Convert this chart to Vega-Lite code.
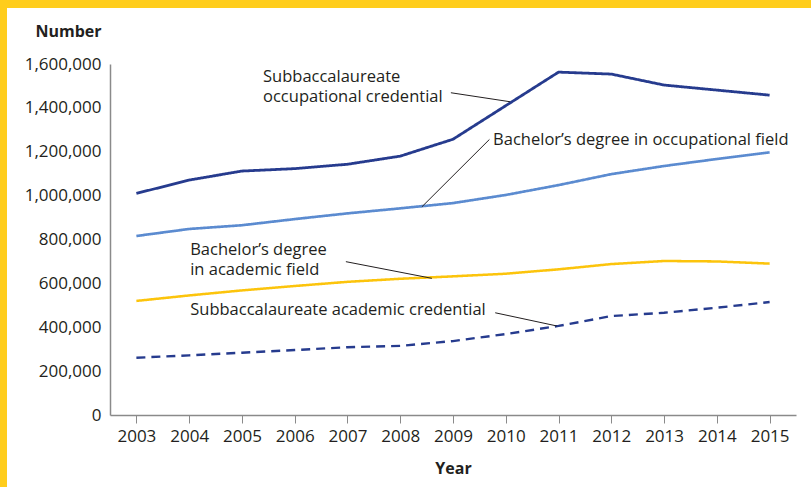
{
  "$schema": "https://vega.github.io/schema/vega-lite/v6.json",
  "width": 804,
  "height": 479,
  "autosize": {"type": "none"},
  "padding": {"left": 7, "top": 8, "right": 0, "bottom": 0},
  "background": "#ffcd1c",
  "config": {
    "font": "Open Sans",
    "view": {"fill": "white", "stroke": null}
  },
  "datasets": {
    "series": [
      {"year": 2003, "series": "Subbaccalaureate occupational credential", "value": 1010000},
      {"year": 2004, "series": "Subbaccalaureate occupational credential", "value": 1071000},
      {"year": 2005, "series": "Subbaccalaureate occupational credential", "value": 1112000},
      {"year": 2006, "series": "Subbaccalaureate occupational credential", "value": 1123000},
      {"year": 2007, "series": "Subbaccalaureate occupational credential", "value": 1143000},
      {"year": 2008, "series": "Subbaccalaureate occupational credential", "value": 1180000},
      {"year": 2009, "series": "Subbaccalaureate occupational credential", "value": 1257000},
      {"year": 2010, "series": "Subbaccalaureate occupational credential", "value": 1410000},
      {"year": 2011, "series": "Subbaccalaureate occupational credential", "value": 1563000},
      {"year": 2012, "series": "Subbaccalaureate occupational credential", "value": 1554000},
      {"year": 2013, "series": "Subbaccalaureate occupational credential", "value": 1504000},
      {"year": 2014, "series": "Subbaccalaureate occupational credential", "value": 1481000},
      {"year": 2015, "series": "Subbaccalaureate occupational credential", "value": 1458000},
      {"year": 2003, "series": "Bachelor's degree in occupational field", "value": 816000},
      {"year": 2004, "series": "Bachelor's degree in occupational field", "value": 848000},
      {"year": 2005, "series": "Bachelor's degree in occupational field", "value": 865000},
      {"year": 2006, "series": "Bachelor's degree in occupational field", "value": 893000},
      {"year": 2007, "series": "Bachelor's degree in occupational field", "value": 919000},
      {"year": 2008, "series": "Bachelor's degree in occupational field", "value": 942000},
      {"year": 2009, "series": "Bachelor's degree in occupational field", "value": 966000},
      {"year": 2010, "series": "Bachelor's degree in occupational field", "value": 1003000},
      {"year": 2011, "series": "Bachelor's degree in occupational field", "value": 1048000},
      {"year": 2012, "series": "Bachelor's degree in occupational field", "value": 1098000},
      {"year": 2013, "series": "Bachelor's degree in occupational field", "value": 1135000},
      {"year": 2014, "series": "Bachelor's degree in occupational field", "value": 1167000},
      {"year": 2015, "series": "Bachelor's degree in occupational field", "value": 1197000},
      {"year": 2003, "series": "Bachelor's degree in academic field", "value": 520000},
      {"year": 2004, "series": "Bachelor's degree in academic field", "value": 545000},
      {"year": 2005, "series": "Bachelor's degree in academic field", "value": 568000},
      {"year": 2006, "series": "Bachelor's degree in academic field", "value": 588000},
      {"year": 2007, "series": "Bachelor's degree in academic field", "value": 607000},
      {"year": 2008, "series": "Bachelor's degree in academic field", "value": 621000},
      {"year": 2009, "series": "Bachelor's degree in academic field", "value": 632000},
      {"year": 2010, "series": "Bachelor's degree in academic field", "value": 644000},
      {"year": 2011, "series": "Bachelor's degree in academic field", "value": 664000},
      {"year": 2012, "series": "Bachelor's degree in academic field", "value": 688000},
      {"year": 2013, "series": "Bachelor's degree in academic field", "value": 702000},
      {"year": 2014, "series": "Bachelor's degree in academic field", "value": 700000},
      {"year": 2015, "series": "Bachelor's degree in academic field", "value": 690000},
      {"year": 2003, "series": "Subbaccalaureate academic credential", "value": 261000},
      {"year": 2004, "series": "Subbaccalaureate academic credential", "value": 272000},
      {"year": 2005, "series": "Subbaccalaureate academic credential", "value": 284000},
      {"year": 2006, "series": "Subbaccalaureate academic credential", "value": 296000},
      {"year": 2007, "series": "Subbaccalaureate academic credential", "value": 309000},
      {"year": 2008, "series": "Subbaccalaureate academic credential", "value": 315000},
      {"year": 2009, "series": "Subbaccalaureate academic credential", "value": 337000},
      {"year": 2010, "series": "Subbaccalaureate academic credential", "value": 369000},
      {"year": 2011, "series": "Subbaccalaureate academic credential", "value": 406000},
      {"year": 2012, "series": "Subbaccalaureate academic credential", "value": 451000},
      {"year": 2013, "series": "Subbaccalaureate academic credential", "value": 466000},
      {"year": 2014, "series": "Subbaccalaureate academic credential", "value": 489000},
      {"year": 2015, "series": "Subbaccalaureate academic credential", "value": 515000}
    ],
    "labels": [
      {"text": "Subbaccalaureate\noccupational credential", "x": 2005.40, "y": 1542000},
      {"text": "Bachelor’s degree in occupational field", "x": 2009.76, "y": 1253000},
      {"text": "Bachelor’s degree\nin academic field", "x": 2004.02, "y": 752000},
      {"text": "Subbaccalaureate academic credential", "x": 2004.02, "y": 478000}
    ],
    "leaders": [
      {"x": 2008.96, "y": 1469000, "x2": 2010.08, "y2": 1428000},
      {"x": 2009.69, "y": 1256000, "x2": 2008.41, "y2": 949000},
      {"x": 2006.97, "y": 699000, "x2": 2008.60, "y2": 623000},
      {"x": 2009.80, "y": 466000, "x2": 2010.965, "y2": 406000}
    ]
  },
  "layer": [
    {
      "data": {"name": "series"},
      "mark": {"type": "line", "strokeCap": "butt", "strokeJoin": "miter"},
      "encoding": {
        "x": {
          "field": "year", "type": "quantitative",
          "scale": {"domain": [2002.5, 2015.5], "range": [103, 789], "nice": false, "zero": false},
          "axis": {
            "title": "Year", "values": [2003, 2004, 2005, 2006, 2007, 2008, 2009, 2010, 2011, 2012, 2013, 2014, 2015],
            "format": "d", "offset": -72, "grid": false,
            "domainColor": "#8a8a8a", "domainWidth": 1.5, "tickColor": "#8a8a8a", "tickWidth": 1, "tickSize": 8,
            "labelFont": "Open Sans", "labelFontSize": 17, "labelColor": "#231f20", "labelPadding": 5,
            "titleFont": "Open Sans", "titleFontSize": 16, "titleFontWeight": "bold", "titleColor": "#231f20",
            "titleY": 53, "titleBaseline": "middle", "labelFlush": false, "labelOverlap": false
          }
        },
        "y": {
          "field": "value", "type": "quantitative",
          "scale": {"domain": [0, 1600000], "range": [407, 56], "nice": false},
          "axis": {
            "title": "Number", "values": [0, 200000, 400000, 600000, 800000, 1000000, 1200000, 1400000, 1600000],
            "format": ",.0f", "offset": -103, "grid": false, "ticks": false,
            "domainColor": "#8a8a8a", "domainWidth": 1.5,
            "labelFont": "Open Sans", "labelFontSize": 17, "labelColor": "#231f20", "labelPadding": 9,
            "titleFont": "Open Sans", "titleFontSize": 16, "titleFontWeight": "bold", "titleColor": "#231f20",
            "titleAngle": 0, "titleAlign": "right", "titleBaseline": "middle", "titleX": -9, "titleY": 23,
            "labelFlush": false, "labelOverlap": false
          }
        },
        "color": {
          "field": "series", "type": "nominal", "legend": null,
          "scale": {
            "domain": ["Subbaccalaureate occupational credential", "Bachelor's degree in occupational field", "Bachelor's degree in academic field", "Subbaccalaureate academic credential"],
            "range": ["#263b8e", "#5b8bd0", "#fcc40c", "#263b8e"]
          }
        },
        "strokeDash": {
          "field": "series", "type": "nominal", "legend": null,
          "scale": {
            "domain": ["Subbaccalaureate occupational credential", "Bachelor's degree in occupational field", "Bachelor's degree in academic field", "Subbaccalaureate academic credential"],
            "range": [[1, 0], [1, 0], [1, 0], [9, 6]]
          }
        },
        "strokeWidth": {
          "field": "series", "type": "nominal", "legend": null,
          "scale": {
            "domain": ["Subbaccalaureate occupational credential", "Bachelor's degree in occupational field", "Bachelor's degree in academic field", "Subbaccalaureate academic credential"],
            "range": [2.8, 2.4, 2.6, 2.8]
          }
        }
      }
    },
    {
      "data": {"name": "leaders"},
      "mark": {"type": "rule", "color": "#231f20", "strokeWidth": 1},
      "encoding": {
        "x": {"field": "x", "type": "quantitative"},
        "y": {"field": "y", "type": "quantitative"},
        "x2": {"field": "x2"},
        "y2": {"field": "y2"}
      }
    },
    {
      "data": {"name": "labels"},
      "mark": {"type": "text", "align": "left", "baseline": "middle", "font": "Open Sans", "fontSize": 16.5, "color": "#231f20", "lineBreak": "\n", "lineHeight": 20},
      "encoding": {
        "x": {"field": "x", "type": "quantitative"},
        "y": {"field": "y", "type": "quantitative"},
        "text": {"field": "text"}
      }
    }
  ]
}
